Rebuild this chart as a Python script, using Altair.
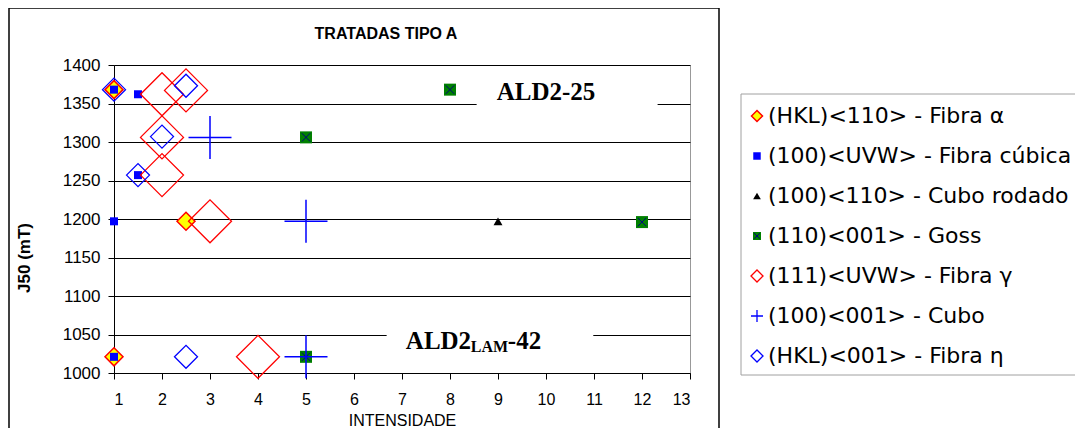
import altair as alt
import pandas as pd

# ---- data ----
alpha_x = [1, 2.5, 1]
alpha_y = [1368, 1197, 1021]
cubica_x = [1, 1.5, 1.5, 1, 1]
cubica_y = [1368, 1362, 1257, 1197, 1021]
rodado_x = [9]
rodado_y = [1197]
goss_x = [8, 5, 12, 5]
goss_y = [1368, 1306, 1196, 1021]
gamma_x = [2, 2.5, 2, 2, 3, 4]
gamma_y = [1362, 1367, 1306, 1257, 1197, 1021]
cubo_x = [3, 5, 5]
cubo_y = [1306, 1197, 1021]
eta_x = [1, 2.5, 2, 1.5, 2.5]
eta_y = [1368, 1373, 1307, 1257, 1021]

legend_labels = [
    "(HKL)<110> - Fibra α",
    "(100)<UVW> - Fibra cúbica",
    "(100)<110> - Cubo rodado",
    "(110)<001> - Goss",
    "(111)<UVW> - Fibra γ",
    "(100)<001> - Cubo",
    "(HKL)<001> - Fibra η",
]

x_ticks = list(range(1, 14))
y_ticks = list(range(1000, 1401, 50))

W, H = 576, 308
SANS = "Liberation Sans"
SERIF = "Liberation Serif"
PLUS = "M-1,0L1,0M0,-1L0,1"
XMARK = "M-0.7,-0.7L0.7,0.7M-0.7,0.7L0.7,-0.7"

xs = alt.Scale(domain=[1, 13], nice=False, zero=False)
ys = alt.Scale(domain=[1000, 1400], nice=False, zero=False)

x_axis = alt.Axis(
    values=x_ticks, grid=False, title="INTENSIDADE", format="d",
    labelPadding=12, tickSize=6, titleY=39, titleBaseline="top",
    titleFontWeight="normal", titleFontSize=16, titleFont=SANS,
    labelFont=SANS, labelFontSize=16, labelColor="black", titleColor="black",
    domainColor="black", tickColor="black", labelOverlap=False)
y_axis = alt.Axis(
    values=y_ticks, grid=True, title=None, format="d",
    labelPadding=8, tickSize=6,
    labelFont=SANS, labelFontSize=17, labelColor="black",
    domainColor="black", tickColor="black", gridColor="black", gridOpacity=1,
    gridWidth=1, labelOverlap=False)

X = alt.X("x:Q", scale=xs, axis=x_axis)
Y = alt.Y("y:Q", scale=ys, axis=y_axis)


def df(x, y):
    return pd.DataFrame({"x": x, "y": y})


def enc(ch):
    return ch.encode(x=X, y=Y)


# gaps in the gridlines behind the annotations
gaps = pd.DataFrame({"x": [8.555, 6.68], "x2": [12.325, 10.985],
                     "y": [1340, 1040], "y2": [1362, 1060]})
gap_layer = alt.Chart(gaps).mark_rect(color="white").encode(
    x=X, x2="x2", y=Y, y2="y2")

alpha = enc(alt.Chart(df(alpha_x, alpha_y)).mark_point(
    shape="diamond", filled=True, fill="#ffff00", stroke="#ff0000",
    strokeWidth=1.5, size=324, opacity=1))
cubica = enc(alt.Chart(df(cubica_x, cubica_y)).mark_point(
    shape="square", filled=True, color="#0000ff", size=64, opacity=1))
rodado = enc(alt.Chart(df(rodado_x, rodado_y)).mark_point(
    shape="triangle-up", filled=True, color="black", size=80, opacity=1))
goss_sq = enc(alt.Chart(df(goss_x, goss_y)).mark_point(
    shape="square", filled=True, color="#008000", size=144, opacity=1))
goss_x_l = enc(alt.Chart(df(goss_x, goss_y)).mark_point(
    shape=XMARK, filled=False, color="#000080", size=144, strokeWidth=1,
    opacity=1))
gamma = enc(alt.Chart(df(gamma_x, gamma_y)).mark_point(
    shape="diamond", filled=False, color="#ff0000", size=1849,
    strokeWidth=1.3, opacity=1))
cubo = enc(alt.Chart(df(cubo_x, cubo_y)).mark_point(
    shape=PLUS, filled=False, color="#0000ff", size=1849,
    strokeWidth=1.5, opacity=1))
eta = enc(alt.Chart(df(eta_x, eta_y)).mark_point(
    shape="diamond", filled=False, color="#0000ff", size=529,
    strokeWidth=1.3, opacity=1))

# annotations
ann1 = alt.Chart(pd.DataFrame({"x": [10], "y": [1354], "t": ["ALD2-25"]})).mark_text(
    font=SERIF, fontWeight="bold", fontSize=25, align="center",
    baseline="alphabetic", color="black").encode(x=X, y=Y, text="t:N")
ann_parts = []
for t, dx, dy, fs in [("ALD2", 0, 0, 25), ("LAM", 65, 2.5, 16), ("-42", 102, 0, 25)]:
    ann_parts.append(
        alt.Chart(pd.DataFrame({"x": [7.08], "y": [1031], "t": [t]})).mark_text(
            font=SERIF, fontWeight="bold", fontSize=fs, align="left",
            baseline="alphabetic", dx=dx, dy=dy, color="black").encode(
            x=X, y=Y, text="t:N"))

title = alt.Chart(pd.DataFrame({"t": ["TRATADAS TIPO A"]})).mark_text(
    font=SANS, fontWeight="bold", fontSize=16, align="center",
    baseline="alphabetic", color="black").encode(
    x=alt.value(272), y=alt.value(-25.7), text="t:N")

ytitle = alt.Chart(pd.DataFrame({"t": ["J50 (mT)"]})).mark_text(
    font=SANS, fontWeight="bold", fontSize=17, align="center",
    baseline="bottom", angle=270, color="black").encode(
    x=alt.value(-80), y=alt.value(193), text="t:N")

# outer chart border (left, top, right)
border = alt.Chart(pd.DataFrame({"a": [0]}))
b_left = border.mark_rule(color="black", strokeWidth=1.5).encode(
    x=alt.value(-105), y=alt.value(-57), y2=alt.value(H + 60))
b_top = border.mark_rule(color="black", strokeWidth=1.5).encode(
    x=alt.value(-105), x2=alt.value(605), y=alt.value(-57))
b_right = border.mark_rule(color="black", strokeWidth=1.5).encode(
    x=alt.value(605), y=alt.value(-57), y2=alt.value(H + 60))

# legend box
lg_left = border.mark_rule(color="#a0a0a0", strokeWidth=1).encode(
    x=alt.value(627), y=alt.value(29), y2=alt.value(310))
lg_top = border.mark_rule(color="#a0a0a0", strokeWidth=1).encode(
    x=alt.value(627), x2=alt.value(970), y=alt.value(29))
lg_bot = border.mark_rule(color="#a0a0a0", strokeWidth=1).encode(
    x=alt.value(627), x2=alt.value(970), y=alt.value(310))

main = alt.layer(
    gap_layer, alpha, cubica, rodado, goss_sq, goss_x_l, gamma, cubo, eta,
    ann1, *ann_parts, title, ytitle, b_left, b_top, b_right, lg_left, lg_top, lg_bot,
)

# legend entries
ly = alt.Scale(domain=[-1.275, 6.425], reverse=True, nice=False, zero=False)
legend_df = pd.DataFrame({"idx": list(range(len(legend_labels))), "label": legend_labels})


def lsym(i, **kw):
    return alt.Chart(legend_df[legend_df.idx == i]).mark_point(opacity=1, **kw).encode(
        x=alt.value(643), y=alt.Y("idx:Q", scale=ly, axis=None))


leg = alt.layer(
    lsym(0, shape="diamond", filled=True, fill="#ffff00", stroke="#ff0000", strokeWidth=1.5, size=121),
    lsym(1, shape="square", filled=True, color="#0000ff", size=56),
    lsym(2, shape="triangle-up", filled=True, color="black", size=60),
    lsym(3, shape="square", filled=True, color="#008000", size=64),
    lsym(3, shape=XMARK, filled=False, color="#000080", size=64, strokeWidth=1),
    lsym(4, shape="diamond", filled=False, color="#ff0000", size=144, strokeWidth=1.3),
    lsym(5, shape=PLUS, filled=False, color="#0000ff", size=144, strokeWidth=1.3),
    lsym(6, shape="diamond", filled=False, color="#0000ff", size=144, strokeWidth=1.3),
    alt.Chart(legend_df).mark_text(
        font="DejaVu Sans", fontSize=22, align="left", baseline="middle",
        color="black").encode(
        x=alt.value(654), y=alt.Y("idx:Q", scale=ly, axis=None), text="label:N"),
)

chart = alt.layer(main, leg).resolve_scale(y="independent").properties(
    width=W, height=H,
    autosize=alt.AutoSizeParams(type="none"),
    padding={"left": 106, "top": 57, "right": 385, "bottom": 55},
).configure_view(stroke="#999999", strokeWidth=1)

chart.save("out.html", embed_options={"renderer": "svg", "actions": False})
